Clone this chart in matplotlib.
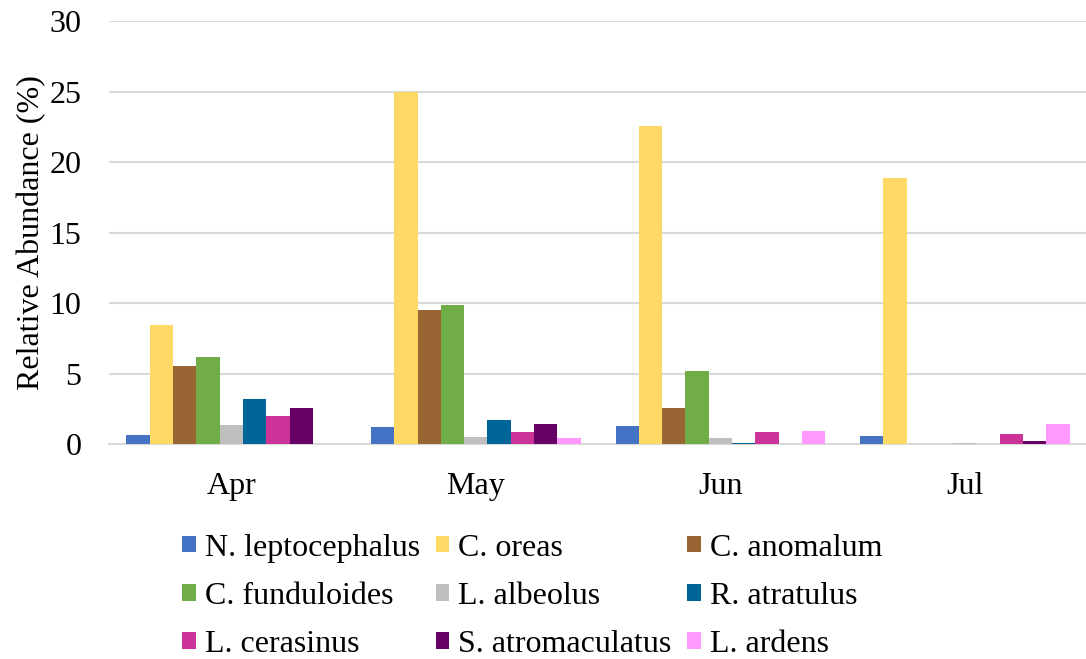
import numpy as np
import matplotlib
matplotlib.use("Agg")
import matplotlib.pyplot as plt

months = ["Apr", "May", "Jun", "Jul"]
species = ["N. leptocephalus", "C. oreas", "C. anomalum",
           "C. funduloides", "L. albeolus", "R. atratulus",
           "L. cerasinus", "S. atromaculatus", "L. ardens"]
colors = ["#4472c4", "#ffd966", "#996633",
          "#70ad47", "#bfbfbf", "#006699",
          "#cc3399", "#660066", "#ff99ff"]

# relative abundance (%) per species, Apr..Jul
n_lepto = [0.67, 1.22, 1.31, 0.60]
c_oreas = [8.46, 25.0, 22.55, 18.87]
c_anom = [5.56, 9.52, 2.58, 0.0]
c_fund = [6.20, 9.88, 5.20, 0.0]
l_albe = [1.38, 0.55, 0.44, 0.10]
r_atra = [3.24, 1.71, 0.13, 0.0]
l_cera = [2.04, 0.89, 0.89, 0.74]
s_atro = [2.56, 1.45, 0.0, 0.25]
l_arde = [0.0, 0.44, 0.93, 1.45]
values = [n_lepto, c_oreas, c_anom, c_fund, l_albe, r_atra, l_cera, s_atro, l_arde]

plt.rcParams["font.family"] = ["Liberation Serif", "DejaVu Serif"]

fig = plt.figure(figsize=(10.86, 6.59), dpi=100)
ax = fig.add_axes([0.1004, 0.3255, 0.9006, 0.6425])

n = len(species)
width = 1.0 / (n + 1.5)
x = np.arange(len(months))
handles = []
for i, (name, vals) in enumerate(zip(species, values)):
    offs = (i - (n - 1) / 2) * width
    b = ax.bar(x + offs, vals, width, color=colors[i], label=name, zorder=3)
    handles.append(b)

ax.set_xlim(-0.5, len(months) - 0.5)
ax.set_ylim(0, 30)
ax.set_yticks(range(0, 31, 5))
ax.set_xticks(x)
ax.set_xticklabels(months)
ax.tick_params(axis="both", length=0, labelsize=23)
ax.tick_params(axis="x", pad=20)
ax.tick_params(axis="y", pad=20)
ax.set_ylabel("Relative Abundance (%)", fontsize=23, labelpad=2)

ax.grid(axis="y", color="#d9d9d9", linewidth=1.5, zorder=0)
for s in ["top", "right", "left"]:
    ax.spines[s].set_visible(False)
ax.spines["bottom"].set_color("#d9d9d9")
ax.spines["bottom"].set_linewidth(1.5)

order = [0, 3, 6, 1, 4, 7, 2, 5, 8]
fig.legend([handles[i] for i in order], [species[i] for i in order],
           ncol=3, loc="lower center", bbox_to_anchor=(0.49, -0.029),
           frameon=False, fontsize=23, handlelength=0.42, handleheight=0.42,
           handletextpad=0.28, columnspacing=0.5, labelspacing=0.6,
           borderaxespad=0.2)

fig.savefig("out.png", dpi=100)
